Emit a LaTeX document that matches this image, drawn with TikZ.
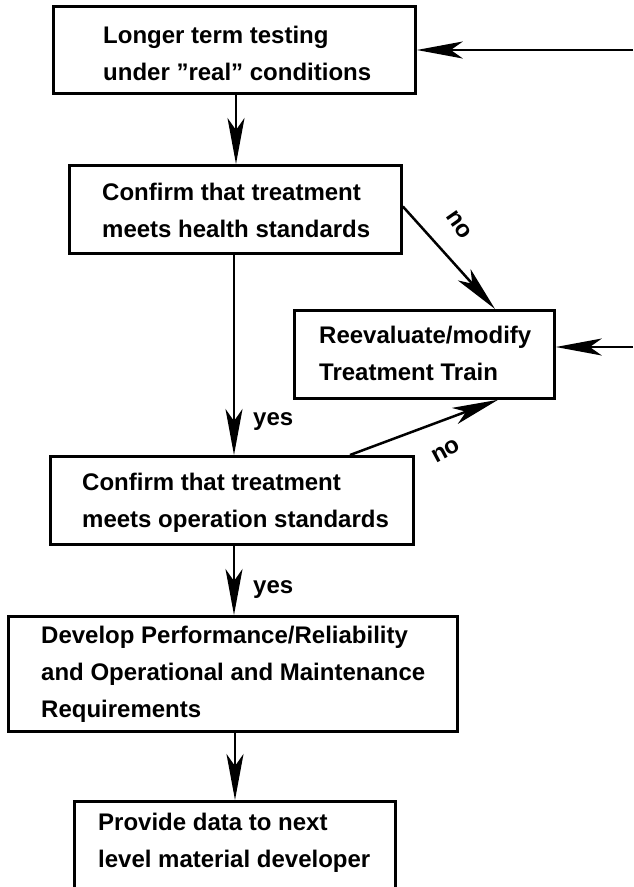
\documentclass[tikz,border=0pt]{standalone}
\usepackage{fontspec}
\setmainfont{Liberation Sans}
\usetikzlibrary{arrows.meta,calc}
\begin{document}
\begin{tikzpicture}[x=1pt,y=-1pt,
  box/.style={draw, line width=2.8pt, inner sep=0pt, anchor=north west},
  txt/.style={anchor=base west, align=left, inner sep=0pt, font=\bfseries\fontsize{24}{37}\selectfont},
  lab/.style={inner sep=0pt, font=\bfseries\fontsize{24}{28}\selectfont},
  arr/.style={line width=2.5pt, -{Stealth[length=46pt,width=17pt,inset=12pt]}}]
\clip (0,0) rectangle (633,887);
\fill[white] (0,0) rectangle (633,887);
% boxes
\node[box, minimum width=362pt, minimum height=87pt]  (b1) at (52,5) {};
\node[box, minimum width=332pt, minimum height=88pt]  (b2) at (68,164) {};
\node[box, minimum width=260pt, minimum height=88pt]  (b3) at (293,309) {};
\node[box, minimum width=363pt, minimum height=88pt]  (b4) at (49,455) {};
\node[box, minimum width=449pt, minimum height=115pt] (b5) at (7,615) {};
\node[box, minimum width=321pt, minimum height=130pt] (b6) at (73,800) {};
% texts (anchored at the baseline of the last line)
\node[txt] (t1) at (103,80)  {Longer term testing\\under ”real” conditions};
\node[txt] (t2) at (102,237) {Confirm that treatment\\meets health standards};
\node[txt] (t3) at (319,380) {Reevaluate/modify\\Treatment Train};
\node[txt] (t4) at (82,527)  {Confirm that treatment\\meets operation standards};
\node[txt] (t5) at (41,717)  {Develop Performance/Reliability\\and Operational and Maintenance\\Requirements};
\node[txt] (t6) at (98,867)  {Provide data to next\\level material developer};
% coordinates
\coordinate (col) at (234,0);
\coordinate (in1) at (633,50);
\coordinate (in2) at (633,347);
% connectors
\draw[arr] (in1) -- (in1 -| b1.east);
\draw[arr] (in2) -- (in2 -| b3.east);
\draw[arr] ($(col |- b1.south)+(2,0)$) -- ($(col |- b2.north)+(2,0)$);
\draw[arr] (col |- b2.south) -- (col |- b4.north);
\draw[arr] (col |- b4.south) -- (col |- b5.north);
\draw[arr] ($(col |- b5.south)+(1,0)$) -- ($(col |- b6.north)+(1,0)$);
\draw[arr] ($(b2.east)+(0,-3)$) -- ($(b3.north west)+(202,0)$);
\draw[arr] ($(b4.north west)+(301,0)$) -- ($(b3.south west)+(205,0)$);
% labels
\node[lab, anchor=base west] (y1) at (253,425) {yes};
\node[lab, anchor=base west] (y2) at (253,593) {yes};
\node[lab, rotate=-55] (n1) at (459,225) {no};
\node[lab, rotate=28] (n2) at (446,451) {no};
\end{tikzpicture}
\end{document}
